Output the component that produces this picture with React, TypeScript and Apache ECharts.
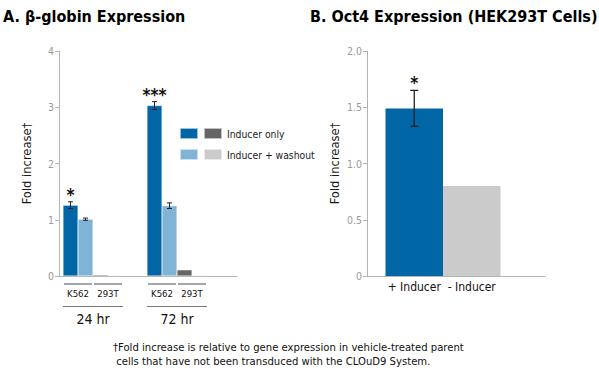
import React, { useEffect, useRef } from 'react';
import * as echarts from 'echarts';

// ---- Panel A data ----
const groupsA = ['24 hr', '72 hr'];
const cellLinesA = ['K562', '293T'];
const k562Inducer = [1.26, 3.03];
const k562Washout = [1.01, 1.25];
const t293Inducer = [0.02, 0.11];
const t293Washout = [0.01, 0.01];
const k562InducerErr = [0.06, 0.07];
const k562WashoutErr = [0.02, 0.05];
const sigA = ['*', '***'];
const yMaxA = 4;
const yStepA = 1;

// ---- Panel B data ----
const catsB = ['+ Inducer', '- Inducer'];
const valuesB = [1.49, 0.8];
const errB = [0.16, 0];
const sigB = ['*', ''];
const yMaxB = 2;
const yStepB = 0.5;

const FONT = '"Liberation Sans Narrow", "DejaVu Sans Condensed", "Arial Narrow", "Liberation Sans", sans-serif';
const DARK_BLUE = '#0066a6';
const LIGHT_BLUE = '#80b4d6';
const DARK_GRAY = '#666666';
const LIGHT_GRAY = '#cbcbcb';
const AXIS_GRAY = '#b4b4b4';
const TICK_LABEL = '#9a9a9a';
const BAR_W_A = 15;

export default function App() {
  const ref = useRef<HTMLDivElement>(null);

  useEffect(() => {
    if (!ref.current) return;
    const chart = echarts.init(ref.current, null, { renderer: 'svg' });

    const yAxisVisible = (grid: number, max: number, step: number, fmt?: (v: number) => string) => ({
      type: 'value',
      gridIndex: grid,
      min: 0,
      max,
      interval: step,
      name: 'Fold increase†',
      nameLocation: 'middle',
      nameGap: 26,
      nameTextStyle: { fontFamily: FONT, fontSize: 12.8, color: '#1a1a1a' },
      axisLine: { show: true, lineStyle: { color: AXIS_GRAY, width: 1 } },
      axisTick: { show: true, length: 4, lineStyle: { color: AXIS_GRAY } },
      axisLabel: { fontFamily: FONT, fontSize: 10.5, color: TICK_LABEL, margin: 5, formatter: fmt },
      splitLine: { show: false },
    });
    const yHidden = (grid: number, max: number) => ({
      type: 'value', gridIndex: grid, min: 0, max, show: false, splitLine: { show: false },
    });
    const xLineOnly = (grid: number) => ({
      type: 'category', gridIndex: grid, data: [''],
      axisLine: { show: true, lineStyle: { color: AXIS_GRAY, width: 1 } },
      axisTick: { show: false }, axisLabel: { show: false },
    });

    const errDataA: number[][] = [];
    groupsA.forEach((_, i) => {
      errDataA.push([i, k562Inducer[i], k562InducerErr[i], 0, 1]);
      errDataA.push([i, k562Washout[i], k562WashoutErr[i], 1, 0]);
    });
    const errDataB: number[][] = catsB.map((_, i) => [i, valuesB[i], errB[i]]);

    const errRenderA = (params: any, api: any) => {
      const i = api.value(0);
      const v = api.value(1);
      const e = api.value(2);
      const k = api.value(3);
      const withSig = api.value(4);
      const c = api.coord([i, v]);
      const x = c[0] + (k - 1.5) * BAR_W_A;
      const yTop = api.coord([i, v + e])[1];
      const yBot = api.coord([i, v - e])[1];
      const hw = 2.5;
      const children: any[] = [
        { type: 'line', shape: { x1: x, y1: yTop, x2: x, y2: yBot }, style: { stroke: '#222', lineWidth: 1 } },
        { type: 'line', shape: { x1: x - hw, y1: yTop, x2: x + hw, y2: yTop }, style: { stroke: '#222', lineWidth: 1 } },
        { type: 'line', shape: { x1: x - hw, y1: yBot, x2: x + hw, y2: yBot }, style: { stroke: '#222', lineWidth: 1 } },
      ];
      if (withSig) {
        children.push({
          type: 'text',
          style: {
            x, y: yTop + 2, text: sigA[i], align: 'center', verticalAlign: 'bottom',
            font: 'bold 17px ' + FONT, fill: '#111',
          },
        });
      }
      return { type: 'group', children };
    };

    const errRenderB = (params: any, api: any) => {
      const i = api.value(0);
      const v = api.value(1);
      const e = api.value(2);
      if (!e) return { type: 'group', children: [] };
      const x = api.coord([i, v])[0];
      const yTop = api.coord([i, v + e])[1];
      const yBot = api.coord([i, v - e])[1];
      const hw = 4;
      return {
        type: 'group',
        children: [
          { type: 'line', shape: { x1: x, y1: yTop, x2: x, y2: yBot }, style: { stroke: '#222', lineWidth: 1.3 } },
          { type: 'line', shape: { x1: x - hw, y1: yTop, x2: x + hw, y2: yTop }, style: { stroke: '#222', lineWidth: 1.3 } },
          { type: 'line', shape: { x1: x - hw, y1: yBot, x2: x + hw, y2: yBot }, style: { stroke: '#222', lineWidth: 1.3 } },
          {
            type: 'text',
            style: {
              x, y: yTop + 1, text: sigB[i], align: 'center', verticalAlign: 'bottom',
              font: 'bold 17px ' + FONT, fill: '#111',
            },
          },
        ],
      };
    };

    const barA = (name: string, data: number[], color: string) => ({
      name, type: 'bar', xAxisIndex: 1, yAxisIndex: 1, data,
      barWidth: BAR_W_A, barGap: '0%',
      itemStyle: { color, borderColor: 'rgba(255,255,255,0.6)', borderWidth: 0.5 },
    });

    chart.setOption({
      animation: false,
      textStyle: { fontFamily: FONT },
      title: [
        { text: 'A. β-globin Expression', left: 3, top: 8, padding: 0, textStyle: { fontFamily: FONT, fontSize: 16, fontWeight: 'bold', color: '#000' } },
        { text: 'B. Oct4 Expression (HEK293T Cells)', left: 310, top: 8, padding: 0, textStyle: { fontFamily: FONT, fontSize: 16, fontWeight: 'bold', color: '#000' } },
        {
          text: '†Fold increase is relative to gene expression in vehicle-treated parent\n cells that have not been transduced with the CLOuD9 System.',
          left: 113, top: 340, padding: 0,
          textStyle: { fontFamily: FONT, fontSize: 11.2, fontWeight: 'normal', color: '#111', lineHeight: 14 },
        },
      ],
      legend: [
        {
          left: 179, top: 127, orient: 'vertical', itemWidth: 18, itemHeight: 11, itemGap: 8, padding: 0,
          icon: 'rect', selectedMode: false, data: ['Inducer only', 'Inducer + washout'],
          formatter: () => '', textStyle: { fontSize: 1 },
        },
        {
          left: 203, top: 127, orient: 'vertical', itemWidth: 18, itemHeight: 11, itemGap: 8, padding: 0,
          icon: 'rect', selectedMode: false, data: ['293T Inducer only', '293T Inducer + washout'],
          formatter: (n: string) => n.replace('293T ', ''),
          textStyle: { fontFamily: FONT, fontSize: 10.3, color: '#1a1a1a' },
        },
      ],
      grid: [
        { left: 59, top: 51, width: 178, height: 225 },
        { left: 51, top: 51, width: 168, height: 225 },
        { left: 367, top: 51, width: 178, height: 225 },
        { left: 385.5, top: 51, width: 115, height: 225 },
      ],
      xAxis: [
        xLineOnly(0),
        { type: 'category', gridIndex: 1, data: groupsA, show: false },
        xLineOnly(2),
        {
          type: 'category', gridIndex: 3, data: catsB,
          axisLine: { show: false }, axisTick: { show: false },
          axisLabel: { fontFamily: FONT, fontSize: 12, color: '#111', margin: 5, interval: 0 },
        },
      ],
      yAxis: [
        yAxisVisible(0, yMaxA, yStepA),
        yHidden(1, yMaxA),
        yAxisVisible(2, yMaxB, yStepB, (v: number) => (v === 0 ? '0' : v.toFixed(1))),
        yHidden(3, yMaxB),
      ],
      series: [
        barA('Inducer only', k562Inducer, DARK_BLUE),
        barA('Inducer + washout', k562Washout, LIGHT_BLUE),
        barA('293T Inducer only', t293Inducer, DARK_GRAY),
        barA('293T Inducer + washout', t293Washout, LIGHT_GRAY),
        {
          type: 'custom', xAxisIndex: 1, yAxisIndex: 1, data: errDataA, renderItem: errRenderA, z: 5,
        },
        {
          type: 'bar', xAxisIndex: 3, yAxisIndex: 3, barCategoryGap: '0%',
          data: valuesB.map((v, i) => ({ value: v, itemStyle: { color: i === 0 ? DARK_BLUE : LIGHT_GRAY } })),
        },
        {
          type: 'custom', xAxisIndex: 3, yAxisIndex: 3, data: errDataB, renderItem: errRenderB, z: 5,
        },
      ],
    });

    // Category labels beneath panel A, positioned from the axis scale
    const y0 = chart.convertToPixel({ yAxisIndex: 1 }, 0) as number;
    const graphics: any[] = [];
    groupsA.forEach((g, i) => {
      const cx = chart.convertToPixel({ xAxisIndex: 1 }, i) as number;
      cellLinesA.forEach((cl, j) => {
        const mid = cx + (j === 0 ? -1 : 1) * BAR_W_A;
        graphics.push({
          type: 'line',
          shape: { x1: mid - 14, y1: y0 + 8, x2: mid + 14, y2: y0 + 8 },
          style: { stroke: '#8a8a8a', lineWidth: 1.5 },
        });
        graphics.push({
          type: 'text',
          style: { x: mid, y: y0 + 17, text: cl, align: 'center', verticalAlign: 'middle', font: '9.5px ' + FONT, fill: '#111' },
        });
      });
      graphics.push({
        type: 'line',
        shape: { x1: cx - 2 * BAR_W_A, y1: y0 + 30.5, x2: cx + 2 * BAR_W_A, y2: y0 + 30.5 },
        style: { stroke: '#777', lineWidth: 1 },
      });
      graphics.push({
        type: 'text',
        style: { x: cx, y: y0 + 43, text: g, align: 'center', verticalAlign: 'middle', font: '14px ' + FONT, fill: '#111' },
      });
    });
    chart.setOption({ graphic: graphics });

    return () => chart.dispose();
  }, []);

  return (
    <div
      ref={ref}
      style={{ position: 'absolute', left: 0, top: 0, width: 599, height: 373, background: '#fff' }}
    />
  );
}
